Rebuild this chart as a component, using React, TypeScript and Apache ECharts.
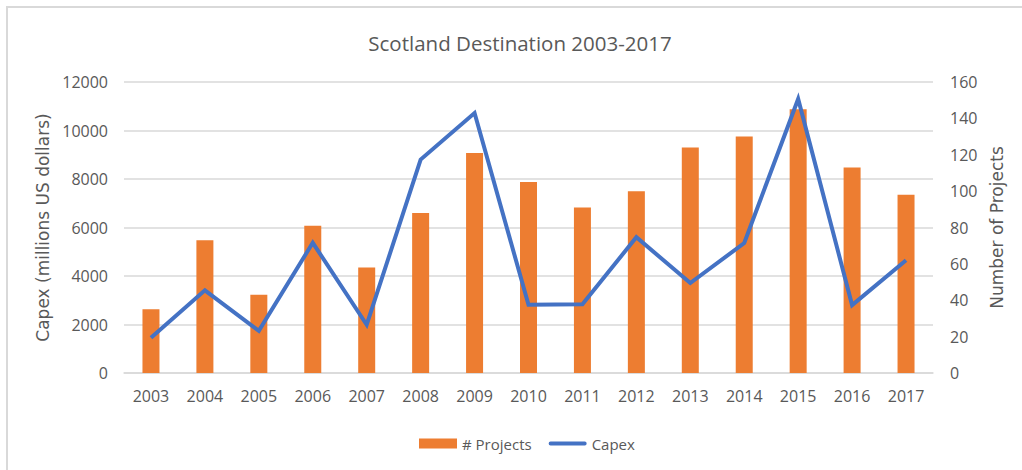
import React, { useEffect, useRef } from "react";
import * as echarts from "echarts";

const years = ["2003", "2004", "2005", "2006", "2007", "2008", "2009", "2010", "2011", "2012", "2013", "2014", "2015", "2016", "2017"];
const projects = [35, 73, 43, 81, 58, 88, 121, 105, 91, 100, 124, 130, 145, 113, 98];
const capex = [1450, 3410, 1740, 5370, 1990, 8800, 10720, 2810, 2830, 5600, 3710, 5360, 11300, 2800, 4650];

const TITLE = "Scotland Destination 2003-2017";
const LEFT_NAME = "Capex (millions US dollars)";
const RIGHT_NAME = "Number of Projects";

const GRAY = "#595959";
const GRID = "#d9d9d9";
const ORANGE = "#ED7D31";
const BLUE = "#4472C4";
const FONT = "Open Sans";

export default function App() {
  const ref = useRef<HTMLDivElement>(null);
  useEffect(() => {
    if (!ref.current) return;
    const chart = echarts.init(ref.current, null, { renderer: "svg" });
    chart.setOption({
      animation: false,
      backgroundColor: "#ffffff",
      graphic: [
        {
          type: "rect",
          shape: { x: 7, y: 7, width: 1040, height: 490 },
          style: { fill: "none", stroke: GRID, lineWidth: 2 },
          silent: true,
        },
        {
          type: "text",
          x: 520,
          y: 43,
          style: {
            text: TITLE,
            fill: GRAY,
            font: `20.5px '${FONT}'`,
            textAlign: "center",
            textVerticalAlign: "middle",
          },
        },
      ],
      legend: {
        left: 414,
        top: 431,
        itemWidth: 38,
        itemHeight: 10,
        itemGap: 17,
        textStyle: { color: GRAY, fontFamily: FONT, fontSize: 15 },
        data: [
          { name: "# Projects", icon: "rect" },
          { name: "Capex", icon: "path://M2,0h36a2,2 0 0 1 0,4h-36a2,2 0 0 1 0,-4z" },
        ],
      },
      grid: { left: 124, right: 89, top: 82, bottom: 97 },
      xAxis: {
        type: "category",
        data: years,
        boundaryGap: true,
        axisTick: { show: false },
        axisLine: { lineStyle: { color: GRID, width: 1.5 } },
        axisLabel: { color: GRAY, fontFamily: FONT, fontSize: 16, margin: 15 },
      },
      yAxis: [
        {
          type: "value",
          min: 0,
          max: 12000,
          interval: 2000,
          name: LEFT_NAME,
          nameLocation: "middle",
          nameGap: 63,
          nameTextStyle: { color: GRAY, fontFamily: "DejaVu Sans", fontSize: 17 },
          axisLine: { show: false },
          axisTick: { show: false },
          axisLabel: {
            color: GRAY,
            fontFamily: FONT,
            fontSize: 16,
            margin: 16,
            formatter: (v: number) => String(v),
          },
          splitLine: { lineStyle: { color: GRID, width: 1.5 } },
        },
        {
          type: "value",
          min: 0,
          max: 160,
          interval: 20,
          name: RIGHT_NAME,
          nameLocation: "middle",
          nameGap: 51,
          nameTextStyle: { color: GRAY, fontFamily: "DejaVu Sans", fontSize: 17 },
          axisLine: { show: false },
          axisTick: { show: false },
          axisLabel: {
            color: GRAY,
            fontFamily: FONT,
            fontSize: 16,
            margin: 17,
            formatter: (v: number) => String(v),
          },
          splitLine: { show: false },
        },
      ],
      series: [
        {
          name: "# Projects",
          type: "bar",
          yAxisIndex: 1,
          data: projects,
          barWidth: 17,
          itemStyle: { color: ORANGE },
        },
        {
          name: "Capex",
          type: "line",
          yAxisIndex: 0,
          data: capex,
          symbol: "none",
          lineStyle: { color: BLUE, width: 4, join: "miter" },
          itemStyle: { color: BLUE },
        },
      ],
    });
    return () => chart.dispose();
  }, []);
  return (
    <div
      ref={ref}
      style={{ position: "fixed", left: 0, top: 0, width: 1022, height: 470 }}
    />
  );
}
